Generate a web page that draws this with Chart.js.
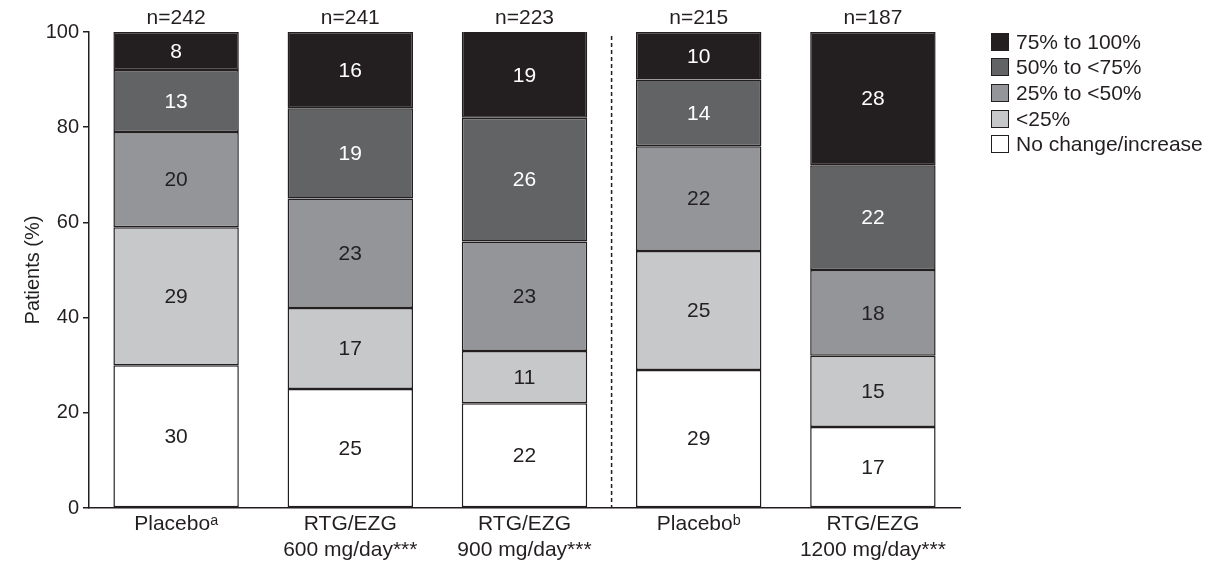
<!DOCTYPE html>
<html>
<head>
<meta charset="utf-8">
<script src="https://cdn.jsdelivr.net/npm/chart.js@4"></script>
<style>
  html, body { margin: 0; padding: 0; background: #fff; }
  #wrap { position: relative; width: 1214px; height: 566px; }
  #legend {
    position: absolute; left: 991px; top: 29px;
    font-family: "Liberation Sans", Arial, sans-serif; font-size: 21px; color: #231f20;
  }
  #legend .item { display: flex; align-items: center; height: 25.6px; white-space: nowrap; }
  #legend .box { width: 18px; height: 18px; border: 1.5px solid #231f20; margin-right: 7px; box-sizing: border-box; }
</style>
</head>
<body>
<div id="wrap">
  <canvas id="barChart" width="1214" height="566"></canvas>
  <div id="legend"></div>
</div>
<script>
// 分組與樣本數
const groups = ['Placebo\u1d43', ['RTG/EZG', '600 mg/day***'], ['RTG/EZG', '900 mg/day***'], 'Placebo\u1d47', ['RTG/EZG', '1200 mg/day***']];
const nPatients = [242, 241, 223, 215, 187];

// 各區間百分比（由下往上堆疊）
const noChange = [30, 25, 22, 29, 17];
const under25 = [29, 17, 11, 25, 15];
const from25to50 = [20, 23, 23, 22, 18];
const from50to75 = [13, 19, 26, 14, 22];
const from75to100 = [8, 16, 19, 10, 28];

const yTicks = [0, 20, 40, 60, 80, 100];

const ink = '#231f20';
const FONT = '"Liberation Sans", Arial, sans-serif';

const series = [
  { label: 'No change/increase', data: noChange, color: '#ffffff', text: ink },
  { label: '<25%', data: under25, color: '#c7c8ca', text: ink },
  { label: '25% to <50%', data: from25to50, color: '#939598', text: ink },
  { label: '50% to <75%', data: from50to75, color: '#616365', text: '#ffffff' },
  { label: '75% to 100%', data: from75to100, color: '#231f20', text: '#ffffff' }
];

// 圖例（由上往下：深色在上）
const legendEl = document.getElementById('legend');
series.slice().reverse().forEach(s => {
  const row = document.createElement('div');
  row.className = 'item';
  row.innerHTML = '<span class="box" style="background:' + s.color + '"></span><span></span>';
  row.lastChild.textContent = s.label;
  legendEl.appendChild(row);
});

// 區段數值、n 標示與分隔虛線
const barLabels = {
  id: 'barLabels',
  afterDatasetsDraw(chart) {
    const { ctx, chartArea, scales } = chart;
    ctx.save();
    ctx.font = '21px ' + FONT;
    ctx.textAlign = 'center';
    ctx.textBaseline = 'middle';
    chart.data.datasets.forEach((ds, di) => {
      chart.getDatasetMeta(di).data.forEach((bar, i) => {
        const top = Math.max(bar.y, chartArea.top);
        ctx.fillStyle = series[di].text;
        ctx.fillText(String(ds.data[i]), bar.x, (top + bar.base) / 2 + 1);
      });
    });
    ctx.fillStyle = ink;
    ctx.textBaseline = 'alphabetic';
    nPatients.forEach((n, i) => {
      ctx.fillText('n=' + n, scales.x.getPixelForValue(i), chartArea.top - 8);
    });
    // 兩項試驗之間的虛線
    const xs = (scales.x.getPixelForValue(2) + scales.x.getPixelForValue(3)) / 2;
    ctx.strokeStyle = ink;
    ctx.lineWidth = 1.5;
    ctx.setLineDash([4, 3]);
    ctx.beginPath();
    ctx.moveTo(xs, chartArea.top + 4);
    ctx.lineTo(xs, chartArea.bottom);
    ctx.stroke();
    ctx.restore();
  }
};

new Chart(document.getElementById('barChart'), {
  type: 'bar',
  data: {
    labels: groups,
    datasets: series.map(s => ({
      label: s.label,
      data: s.data,
      backgroundColor: s.color,
      borderColor: ink,
      borderWidth: 1.5,
      borderSkipped: false,
      barPercentage: 0.72,
      categoryPercentage: 1
    }))
  },
  options: {
    responsive: false,
    animation: false,
    layout: { padding: { left: 0, right: 254, top: 32, bottom: 0 } },
    plugins: { legend: { display: false }, tooltip: { enabled: false } },
    scales: {
      x: {
        stacked: true,
        afterFit(axis) { axis.height = 58; },
        grid: { display: false, drawTicks: false },
        border: { color: ink, width: 1.5 },
        ticks: { color: ink, font: { family: FONT, size: 21, lineHeight: 1.2 }, padding: 4, maxRotation: 0 }
      },
      y: {
        stacked: true,
        min: 0,
        max: 100,
        afterBuildTicks(axis) { axis.ticks = yTicks.map(v => ({ value: v })); },
        afterFit(axis) { axis.width = 89; },
        grid: { drawOnChartArea: false, tickLength: 6, color: ink, lineWidth: 1.5 },
        border: { color: ink, width: 1.5 },
        ticks: { color: ink, font: { family: FONT, size: 20 }, padding: 4 },
        title: { display: true, text: 'Patients (%)', color: ink, font: { family: FONT, size: 20, lineHeight: 1.2 }, padding: { top: 21, bottom: 0 } }
      }
    }
  },
  plugins: [barLabels]
});
</script>
</body>
</html>
